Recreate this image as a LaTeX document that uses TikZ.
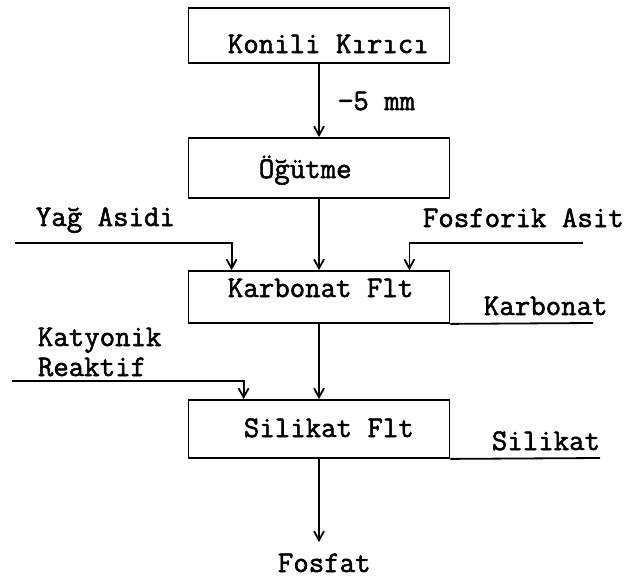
\documentclass[tikz,border=0pt]{standalone}
\usepackage{fontspec}
\newfontfamily\daktilo{Latin Modern Mono}[FakeBold=1.8]
\usetikzlibrary{arrows.meta}

\begin{document}
\begin{tikzpicture}[x=1pt,y=-1pt,line width=1.8pt,>={Straight Barb[length=9pt,width=10pt]},
  kutu/.style={draw,inner sep=0pt,minimum width=261pt},
  yazi/.style={inner sep=0pt,anchor=base west,font=\daktilo\fontsize{30}{34}\selectfont}]
  \useasboundingbox (0,0) rectangle (626,578);
  % kutular
  \node[kutu,minimum height=55pt] (kirici) at (319,35.5) {};
  \node[kutu,minimum height=60pt] (ogutme) at (319,168) {};
  \node[kutu,minimum height=52pt] (karb) at (319,297) {};
  \node[kutu,minimum height=58pt] (silik) at (319,429) {};
  \node[yazi] (tkirici) at (227,53) {Konili Kırıcı};
  \node[yazi] (togutme) at (258,178) {Öğütme};
  \node[yazi] (tkarb) at (227,297) {Karbonat Flt};
  \node[yazi] (tsilik) at (243,437) {Silikat Flt};
  % etiketler
  \node[yazi] (mm) at (337,110) {−5 mm};
  \node[yazi] (yag) at (35,226) {Yağ Asidi};
  \node[yazi] (fosf) at (422,227) {Fosforik Asit};
  \node[yazi] (karbcik) at (483,315) {Karbonat};
  \node[yazi] (kat) at (37,346) {Katyonik};
  \node[yazi] (reak) at (37,376) {Reaktif};
  \node[yazi] (silcik) at (491,450) {Silikat};
  \node[yazi] (fosfat) at (277,572) {Fosfat};
  \coordinate (yagbas) at (15,243);
  \coordinate (fosbas) at (583,243);
  \coordinate (katbas) at (12,381);
  \coordinate (karbson) at (593,323);
  \coordinate (silson) at (600,458);
  \coordinate (uc) at (319,542);
  % akis
  \draw[->] (kirici) -- (ogutme);
  \draw[->] (ogutme) -- (karb);
  \draw[->] (karb) -- (silik);
  \draw[->] (silik) -- (uc);
  \draw[->] (yagbas) -| ([xshift=44pt]karb.north west);
  \draw[->] (fosbas) -| ([xshift=-41pt]karb.north east);
  \draw[->] (katbas) -| ([xshift=56pt]silik.north west);
  \draw (karb.south east) -- (karbson);
  \draw (silik.south east) -- (silson);
\end{tikzpicture}
\end{document}
